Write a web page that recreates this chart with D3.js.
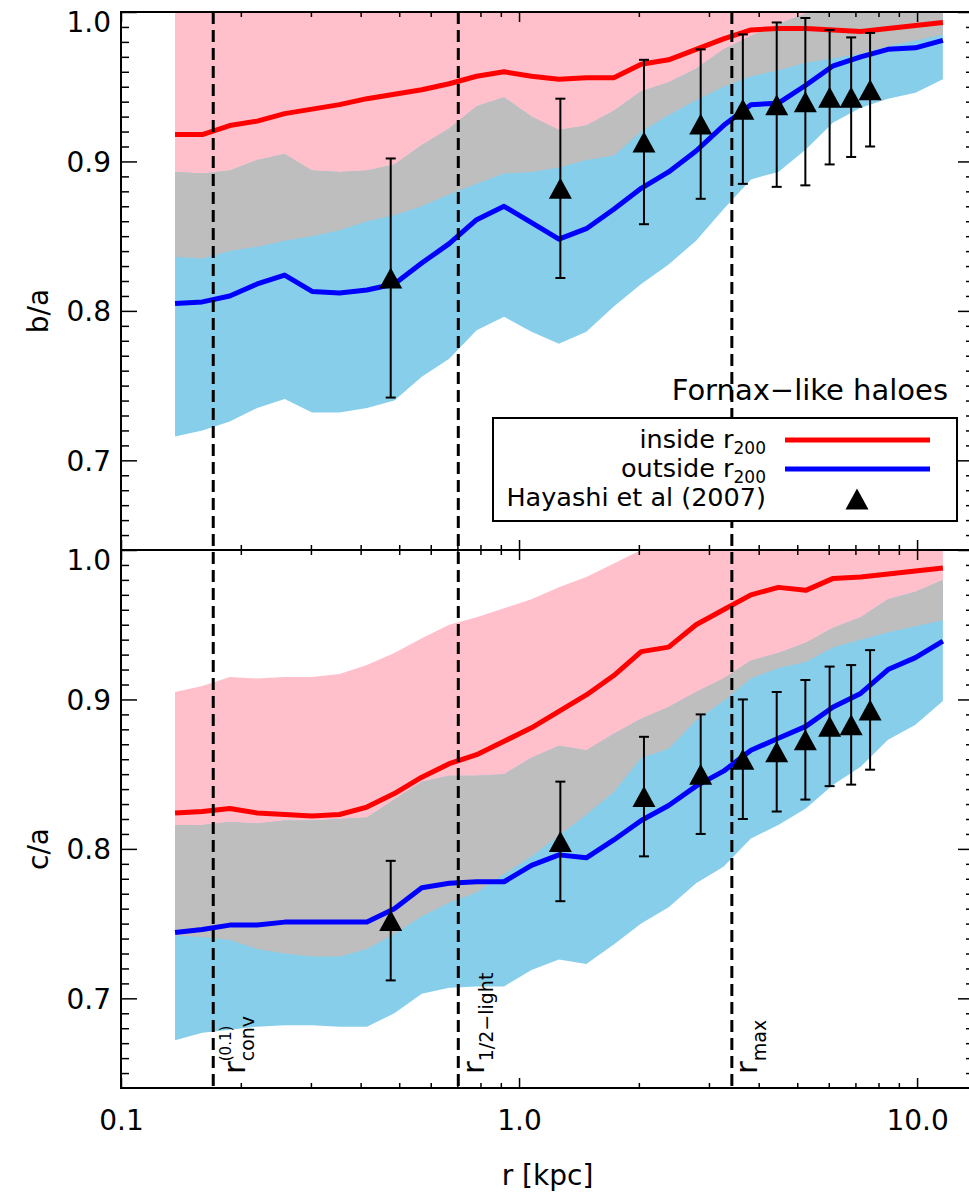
<!DOCTYPE html>
<html>
<head>
<meta charset="utf-8">
<script src="https://cdn.jsdelivr.net/npm/d3@7/dist/d3.min.js"></script>
<style>
  html, body { margin: 0; padding: 0; background: #fff; }
  svg text { font-family: "DejaVu Sans", sans-serif; fill: #000; }
</style>
</head>
<body>
<svg id="chart" width="969" height="1194"></svg>
<script>
// Radii of the profile bins [kpc]
const radius = [0.1367, 0.1601, 0.1876, 0.2199, 0.2577, 0.3020, 0.3540, 0.4148, 0.4861, 0.5697,
                0.6677, 0.7825, 0.9171, 1.0747, 1.2594, 1.4760, 1.7298, 2.0273, 2.3759, 2.7844,
                3.2633, 3.8244, 4.4821, 5.2529, 6.1562, 7.2148, 8.4555, 9.9060, 11.61];

// b/a : haloes inside r200 (median and scatter)
const baInMed = [0.918, 0.918, 0.924, 0.927, 0.932, 0.935, 0.938, 0.942, 0.945, 0.948,
                 0.952, 0.957, 0.960, 0.957, 0.955, 0.956, 0.956, 0.965, 0.968, 0.975,
                 0.982, 0.988, 0.989, 0.989, 0.988, 0.987, 0.989, 0.991, 0.993];
const baInLo  = [0.836, 0.835, 0.840, 0.843, 0.847, 0.850, 0.854, 0.860, 0.864, 0.870,
                 0.878, 0.885, 0.892, 0.893, 0.896, 0.901, 0.904, 0.920, 0.931, 0.941,
                 0.950, 0.957, 0.961, 0.966, 0.969, 0.972, 0.977, 0.981, 0.985];
const baInHi  = [1.0, 1.0, 1.0, 1.0, 1.0, 1.0, 1.0, 1.0, 1.0, 1.0,
                 1.0, 1.0, 1.0, 1.0, 1.0, 1.0, 1.0, 1.0, 1.0, 1.0,
                 1.0, 1.0, 1.0, 1.0, 1.0, 1.0, 1.0, 1.0, 1.0];
// b/a : haloes outside r200
const baOutMed = [0.805, 0.806, 0.810, 0.818, 0.824, 0.813, 0.812, 0.814, 0.818, 0.832,
                  0.845, 0.861, 0.870, 0.859, 0.848, 0.855, 0.868, 0.882, 0.893, 0.907,
                  0.924, 0.938, 0.939, 0.951, 0.964, 0.970, 0.975, 0.976, 0.981];
const baOutLo  = [0.716, 0.720, 0.726, 0.735, 0.741, 0.732, 0.732, 0.735, 0.740, 0.756,
                  0.768, 0.787, 0.796, 0.786, 0.778, 0.786, 0.803, 0.818, 0.831, 0.847,
                  0.868, 0.888, 0.893, 0.908, 0.926, 0.936, 0.942, 0.946, 0.955];
const baOutHi  = [0.893, 0.892, 0.894, 0.901, 0.905, 0.894, 0.893, 0.894, 0.898, 0.911,
                  0.922, 0.937, 0.943, 0.930, 0.921, 0.924, 0.934, 0.947, 0.953, 0.962,
                  0.975, 0.984, 0.992, 0.999, 1.0, 1.0, 1.0, 1.0, 1.0];

// c/a : haloes inside r200
const caInMed = [0.824, 0.825, 0.827, 0.824, 0.823, 0.822, 0.823, 0.828, 0.837, 0.848,
                 0.857, 0.863, 0.872, 0.881, 0.892, 0.903, 0.916, 0.932, 0.935, 0.950,
                 0.960, 0.970, 0.975, 0.973, 0.981, 0.982, 0.984, 0.986, 0.988];
const caInLo  = [0.742, 0.741, 0.739, 0.733, 0.730, 0.728, 0.728, 0.733, 0.743, 0.755,
                 0.764, 0.771, 0.783, 0.795, 0.809, 0.823, 0.838, 0.861, 0.867, 0.886,
                 0.899, 0.914, 0.921, 0.925, 0.935, 0.940, 0.945, 0.949, 0.953];
const caInHi  = [0.905, 0.909, 0.915, 0.914, 0.915, 0.915, 0.917, 0.923, 0.931, 0.941,
                 0.950, 0.955, 0.961, 0.967, 0.975, 0.982, 0.991, 1.0, 1.0, 1.0,
                 1.0, 1.0, 1.0, 1.0, 1.0, 1.0, 1.0, 1.0, 1.0];
// c/a : haloes outside r200
const caOutMed = [0.744, 0.746, 0.749, 0.749, 0.751, 0.751, 0.751, 0.751, 0.760, 0.774,
                  0.777, 0.778, 0.778, 0.789, 0.796, 0.794, 0.806, 0.819, 0.829, 0.842,
                  0.852, 0.866, 0.874, 0.882, 0.895, 0.904, 0.920, 0.928, 0.939];
const caOutLo  = [0.672, 0.677, 0.679, 0.681, 0.682, 0.682, 0.681, 0.681, 0.690, 0.703,
                  0.707, 0.708, 0.708, 0.719, 0.726, 0.723, 0.736, 0.750, 0.761, 0.777,
                  0.788, 0.807, 0.816, 0.827, 0.843, 0.855, 0.873, 0.883, 0.899];
const caOutHi  = [0.816, 0.816, 0.818, 0.817, 0.819, 0.819, 0.820, 0.821, 0.833, 0.845,
                  0.849, 0.849, 0.850, 0.861, 0.869, 0.866, 0.877, 0.887, 0.895, 0.905,
                  0.914, 0.926, 0.931, 0.938, 0.948, 0.955, 0.967, 0.972, 0.980];

// Hayashi et al (2007) fit values
const hayR     = [0.476, 1.27, 2.06, 2.86, 3.65, 4.44, 5.24, 6.03, 6.83, 7.62];
const hayBA    = [0.822, 0.882, 0.913, 0.925, 0.935, 0.938, 0.940, 0.943, 0.943, 0.948];
const hayBAerr = [0.080, 0.060, 0.055, 0.050, 0.050, 0.055, 0.056, 0.045, 0.040, 0.038];
const hayCA    = [0.752, 0.805, 0.835, 0.850, 0.860, 0.865, 0.873, 0.882, 0.883, 0.893];
const hayCAerr = [0.040, 0.040, 0.040, 0.040, 0.040, 0.040, 0.040, 0.040, 0.040, 0.040];

// Characteristic radii marked with vertical dashed lines
const refR = [0.1705, 0.7037, 3.425];

// Axis ticks
const xMajorTicks = [0.1, 1, 10];
const xTickLabels = ["0.1", "1.0", "10.0"];
const yMajorTicks = [0.7, 0.8, 0.9, 1.0];
const yTickLabels = ["0.7", "0.8", "0.9", "1.0"];

const W = 969, H = 1194;
const svg = d3.select("#chart");
svg.append("rect").attr("width", W).attr("height", H).attr("fill", "#fff");

const xLeft = 121, xRight = 974;
const x = d3.scaleLog().domain([0.1, 13.9]).range([xLeft, xRight]);

const xMinor = [];
[0.1, 1, 10].forEach(dec => { for (let m = 2; m <= 9; m++) { const v = m * dec; if (v < 13.9) xMinor.push(v); } });
const yMinor = d3.range(65, 100).filter(v => v % 10 !== 0).map(v => v / 100);

const COL = { pink: "#FFC0CB", sky: "#87CEEB", gray: "#BEBEBE", red: "#FF0000", blue: "#0000FF" };

const panels = [
  { key: "ba", title: "b/a", top: 12, bottom: 550,
    inMed: baInMed, inLo: baInLo, inHi: baInHi,
    outMed: baOutMed, outLo: baOutLo, outHi: baOutHi,
    hay: hayBA, hayErr: hayBAerr },
  { key: "ca", title: "c/a", top: 550, bottom: 1088,
    inMed: caInMed, inLo: caInLo, inHi: caInHi,
    outMed: caOutMed, outLo: caOutLo, outHi: caOutHi,
    hay: hayCA, hayErr: hayCAerr }
];

// Shaded scatter bands and median curves
panels.forEach(p => {
  p.y = d3.scaleLinear().domain([0.64, 1.0]).range([p.bottom, p.top]);
  const y = p.y;
  const clipId = "clip-" + p.key;
  svg.append("clipPath").attr("id", clipId).append("rect")
    .attr("x", xLeft).attr("y", p.top).attr("width", xRight - xLeft).attr("height", p.bottom - p.top);
  const g = svg.append("g").attr("clip-path", `url(#${clipId})`);

  const band = (lo, hi) => d3.area()
    .x(d => x(d)).y0((d, i) => y(lo[i])).y1((d, i) => y(hi[i]))(radius);
  g.append("path").attr("d", band(p.inLo, p.inHi)).attr("fill", COL.pink);
  g.append("path").attr("d", band(p.outLo, p.outHi)).attr("fill", COL.sky);
  // overlap of the two scatter bands
  const ovLo = radius.map((d, i) => Math.max(p.inLo[i], p.outLo[i]));
  const ovHi = radius.map((d, i) => Math.max(ovLo[i], Math.min(p.inHi[i], p.outHi[i])));
  g.append("path").attr("d", band(ovLo, ovHi)).attr("fill", COL.gray);

  const line = vals => d3.line().x(d => x(d)).y((d, i) => y(vals[i]))(radius);
  g.append("path").attr("d", line(p.inMed)).attr("fill", "none")
    .attr("stroke", COL.red).attr("stroke-width", 5).attr("stroke-linejoin", "round");
  g.append("path").attr("d", line(p.outMed)).attr("fill", "none")
    .attr("stroke", COL.blue).attr("stroke-width", 5).attr("stroke-linejoin", "round");
});

// Vertical dashed lines for the characteristic radii
svg.append("g").selectAll("line").data(refR).join("line")
  .attr("x1", d => x(d)).attr("x2", d => x(d))
  .attr("y1", panels[0].top).attr("y2", panels[1].bottom)
  .attr("stroke", "#000").attr("stroke-width", 3).attr("stroke-dasharray", "12,6");

// Hayashi et al points with error bars
const triPath = (w, h) => `M0,${-h / 2}L${w / 2},${h / 2}L${-w / 2},${h / 2}Z`;
panels.forEach(p => {
  const g = svg.append("g");
  hayR.forEach((r, i) => {
    const cx = x(r), yTop = p.y(p.hay[i] + p.hayErr[i]), yBot = p.y(p.hay[i] - p.hayErr[i]);
    g.append("line").attr("x1", cx).attr("x2", cx).attr("y1", yTop).attr("y2", yBot)
      .attr("stroke", "#000").attr("stroke-width", 2);
    [yTop, yBot].forEach(yy => g.append("line")
      .attr("x1", cx - 5).attr("x2", cx + 5).attr("y1", yy).attr("y2", yy)
      .attr("stroke", "#000").attr("stroke-width", 2));
    g.append("path").attr("d", triPath(23, 21))
      .attr("transform", `translate(${cx},${p.y(p.hay[i])})`).attr("fill", "#000");
  });
});

// Axes and frames
const styleTicks = sel => {
  sel.select(".domain").remove();
  sel.selectAll(".tick line").attr("stroke", "#000").attr("stroke-width", 1.5);
};
panels.forEach((p, pi) => {
  const y = p.y;
  // left axis
  const gl = svg.append("g").attr("transform", `translate(${xLeft},0)`);
  gl.call(d3.axisLeft(y).tickValues(yMinor).tickSize(-8).tickFormat("")).call(styleTicks);
  const glM = svg.append("g").attr("transform", `translate(${xLeft},0)`);
  glM.call(d3.axisLeft(y).tickValues(yMajorTicks).tickSize(-16).tickPadding(10)
      .tickFormat((d, i) => yTickLabels[i])).call(styleTicks);
  glM.selectAll(".tick text").attr("font-size", 28).attr("font-family", "DejaVu Sans")
    .attr("dy", d => d === 1.0 ? "0.68em" : "0.36em");
  // right axis
  svg.append("g").attr("transform", `translate(${xRight},0)`)
    .call(d3.axisRight(y).tickValues(yMinor).tickSize(-8).tickFormat("")).call(styleTicks);
  svg.append("g").attr("transform", `translate(${xRight},0)`)
    .call(d3.axisRight(y).tickValues(yMajorTicks).tickSize(-16).tickFormat("")).call(styleTicks);
  // top and bottom x ticks
  svg.append("g").attr("transform", `translate(0,${p.top})`)
    .call(d3.axisTop(x).tickValues(xMinor).tickSize(-5).tickFormat("")).call(styleTicks);
  svg.append("g").attr("transform", `translate(0,${p.top})`)
    .call(d3.axisTop(x).tickValues(xMajorTicks).tickSize(-10).tickFormat("")).call(styleTicks);
  svg.append("g").attr("transform", `translate(0,${p.bottom})`)
    .call(d3.axisBottom(x).tickValues(xMinor).tickSize(-5).tickFormat("")).call(styleTicks);
  const gb = svg.append("g").attr("transform", `translate(0,${p.bottom})`);
  gb.call(d3.axisBottom(x).tickValues(xMajorTicks).tickSize(-10).tickPadding(22)
      .tickFormat((d, i) => pi === 1 ? xTickLabels[i] : "")).call(styleTicks);
  gb.selectAll(".tick text").attr("font-size", 28).attr("font-family", "DejaVu Sans");

  // frame
  svg.append("rect").attr("x", xLeft).attr("y", p.top)
    .attr("width", xRight - xLeft).attr("height", p.bottom - p.top)
    .attr("fill", "none").attr("stroke", "#000").attr("stroke-width", 2);

  // y-axis title
  svg.append("text")
    .attr("transform", `translate(48,${(p.top + p.bottom) / 2 + 30}) rotate(-90)`)
    .attr("text-anchor", "middle").attr("font-size", 28).text(p.title);
});

// x-axis title
svg.append("text").attr("x", (xLeft + xRight) / 2).attr("y", 1185)
  .attr("text-anchor", "middle").attr("font-size", 28).text("r [kpc]");

// Labels of the characteristic radii
const refLabels = [
  { r: refR[0], dx: 32, sup: "(0.1)", sub: "conv" },
  { r: refR[1], dx: 26, sup: null, sub: "1/2\u2212light" },
  { r: refR[2], dx: 25, sup: null, sub: "max" }
];
refLabels.forEach(L => {
  const g = svg.append("g").attr("transform", `translate(${x(L.r) + L.dx},1074) rotate(-90)`);
  const main = g.append("text").attr("x", 0).attr("y", 0).attr("font-size", 31).text("r");
  const w = main.node().getComputedTextLength();
  g.append("text").attr("x", w).attr("y", 9).attr("font-size", 19).text(L.sub);
  if (L.sup) g.append("text").attr("x", w).attr("y", -14).attr("font-size", 15).text(L.sup);
});

// Legend
svg.append("text").attr("x", 948).attr("y", 400).attr("text-anchor", "end")
  .attr("font-size", 29).text("Fornax\u2212like haloes");
const lg = svg.append("g");
lg.append("rect").attr("x", 493).attr("y", 418).attr("width", 464).attr("height", 103)
  .attr("fill", "#fff").attr("stroke", "#000").attr("stroke-width", 2);
const legendRows = [
  { label: "inside r", sub: "200", color: COL.red, base: 448, lineY: 440 },
  { label: "outside r", sub: "200", color: COL.blue, base: 477, lineY: 469 },
  { label: "Hayashi et al (2007)", sub: null, color: null, base: 506, lineY: 499 }
];
legendRows.forEach(row => {
  const t = lg.append("text").attr("x", 766).attr("y", row.base)
    .attr("text-anchor", "end").attr("font-size", 25.5);
  t.append("tspan").text(row.label);
  if (row.sub) t.append("tspan").attr("dy", 6).attr("font-size", 17).text(row.sub);
  if (row.color) {
    lg.append("line").attr("x1", 785).attr("x2", 930).attr("y1", row.lineY).attr("y2", row.lineY)
      .attr("stroke", row.color).attr("stroke-width", 5);
  } else {
    lg.append("path").attr("d", triPath(23, 21))
      .attr("transform", `translate(857,${row.lineY})`).attr("fill", "#000");
  }
});
</script>
</body>
</html>
